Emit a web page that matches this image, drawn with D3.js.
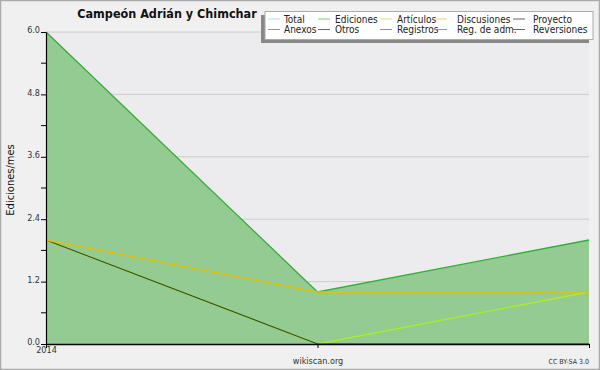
<!DOCTYPE html>
<html><head><meta charset="utf-8">
<script src="https://cdn.jsdelivr.net/npm/d3@7"></script>
<style>body{margin:0;background:#fff}svg{display:block}text{font-family:"DejaVu Sans Condensed","DejaVu Sans",sans-serif}</style>
</head><body><svg id="c" width="600" height="370"></svg>
<script>
const periods = ["2014-a","2014-b","2014-c"];
const xTickLabels = ["2014","",""];
const ediciones = [6, 1, 2];
const discusiones = [2, 1, 1];
const articulos = [2, 0, 1];
const proyecto = [2, 0, 0];
const yTicks = [0, 1.2, 2.4, 3.6, 4.8, 6.0];
const yMinor = [0.6, 1.8, 3.0, 4.2, 5.4];
const legendNames = ["Total","Ediciones","Artículos","Discusiones","Proyecto","Anexos","Otros","Registros","Reg. de adm.","Reversiones"];
const legendColors = ["#a8e4e4","#77cc77","#ccee66","#ffcc55","#666666","#ee7744","#8844dd","#7788ee","#cc66ee","#dd3333"];

const svg = d3.select("#c");
svg.append("rect").attr("x",0.5).attr("y",0.5).attr("width",599).attr("height",369).attr("fill","#f0f0f0").attr("stroke","#aaaaaa").attr("stroke-width",1.5);

const L=46,R=589,T=32,B=344;
const x = d3.scalePoint().domain(periods).range([L,R]);
const y = d3.scaleLinear().domain([0,6]).range([B,T]);

svg.append("rect").attr("x",L).attr("y",T).attr("width",R-L).attr("height",B-T).attr("fill","#ececee");

// grid
svg.append("g").selectAll("line").data(yTicks.slice(1)).join("line")
  .attr("x1",L).attr("x2",R).attr("y1",d=>y(d)).attr("y2",d=>y(d))
  .attr("stroke","#cccccc").attr("stroke-width",1);

// area
const area = d3.area().x((d,i)=>x(periods[i])).y0(y(0)).y1(d=>y(d));
svg.append("path").datum(ediciones).attr("d",area).attr("fill","#93cb93");
const line = d3.line().x((d,i)=>x(periods[i])).y(d=>y(d));
svg.append("path").datum(ediciones).attr("d",line).attr("fill","none").attr("stroke","#33b033").attr("stroke-width",1.3);
svg.append("path").datum(articulos).attr("d",line).attr("fill","none").attr("stroke","#aaee22").attr("stroke-width",1.3);
svg.append("path").datum(proyecto).attr("d",line).attr("fill","none").attr("stroke","#3a4a22").attr("stroke-width",1.1);
svg.append("path").datum(discusiones).attr("d",line).attr("fill","none").attr("stroke","#e8c000").attr("stroke-width",1.3);

// y axis
const yAxis = d3.axisLeft(y).tickValues(yTicks).tickFormat(d3.format(".1f")).tickSize(5).tickSizeOuter(0);
const gy = svg.append("g").attr("transform",`translate(${L},0)`).call(yAxis);
gy.selectAll("text").attr("font-size",9).attr("fill","#333").attr("dx",2).attr("dy","0.1em");
gy.select(".domain").attr("stroke","#000").attr("stroke-width",1.2);
svg.append("g").selectAll("line").data(yMinor).join("line")
  .attr("x1",L-5).attr("x2",L).attr("y1",d=>y(d)).attr("y2",d=>y(d)).attr("stroke","#000");

// x axis
const xAxis = d3.axisBottom(x).tickFormat((d,i)=>xTickLabels[i]).tickSize(4).tickSizeOuter(0);
const gx = svg.append("g").attr("transform",`translate(0,${B})`).call(xAxis);
gx.select(".domain").attr("stroke","#000").attr("stroke-width",1.5);
gx.selectAll("text").attr("font-size",9).attr("fill","#333").attr("dy","0.2em");

// title
svg.append("text").attr("x",167).attr("y",18).attr("text-anchor","middle").attr("font-size",12.5).attr("font-weight","bold").attr("fill","#111").text("Campeón Adrián y Chimchar");

svg.append("text").attr("transform","translate(14,180) rotate(-90)").attr("text-anchor","middle").attr("font-size",11).attr("font-family","DejaVu Sans").attr("fill","#111").text("Ediciones/mes");

svg.append("text").attr("x",318).attr("y",364).attr("text-anchor","middle").attr("font-size",9).attr("fill","#333").text("wikiscan.org");
svg.append("text").attr("x",589).attr("y",364).attr("text-anchor","end").attr("font-size",7).attr("fill","#333").text("CC BY-SA 3.0");

// legend
const lg = svg.append("g");
lg.append("rect").attr("x",261).attr("y",15).attr("width",328).attr("height",28).attr("fill","#888");
lg.append("rect").attr("x",265).attr("y",11.5).attr("width",328).attr("height",28).attr("fill","#fff").attr("stroke","#aaa");
const colX = [268,318,380,435,513];
const textX = [284,335,397,457,533];
legendNames.forEach((n,i)=>{
  const c=i%5, r=Math.floor(i/5), yy = 19+r*10.5;
  lg.append("line").attr("x1",colX[c]).attr("x2",colX[c]+12).attr("y1",yy).attr("y2",yy).attr("stroke",legendColors[i]).attr("stroke-width",1);
  lg.append("text").attr("x",textX[c]).attr("y",yy+3.5).attr("font-size",10).attr("fill","#222").text(n);
});
</script></body></html>
